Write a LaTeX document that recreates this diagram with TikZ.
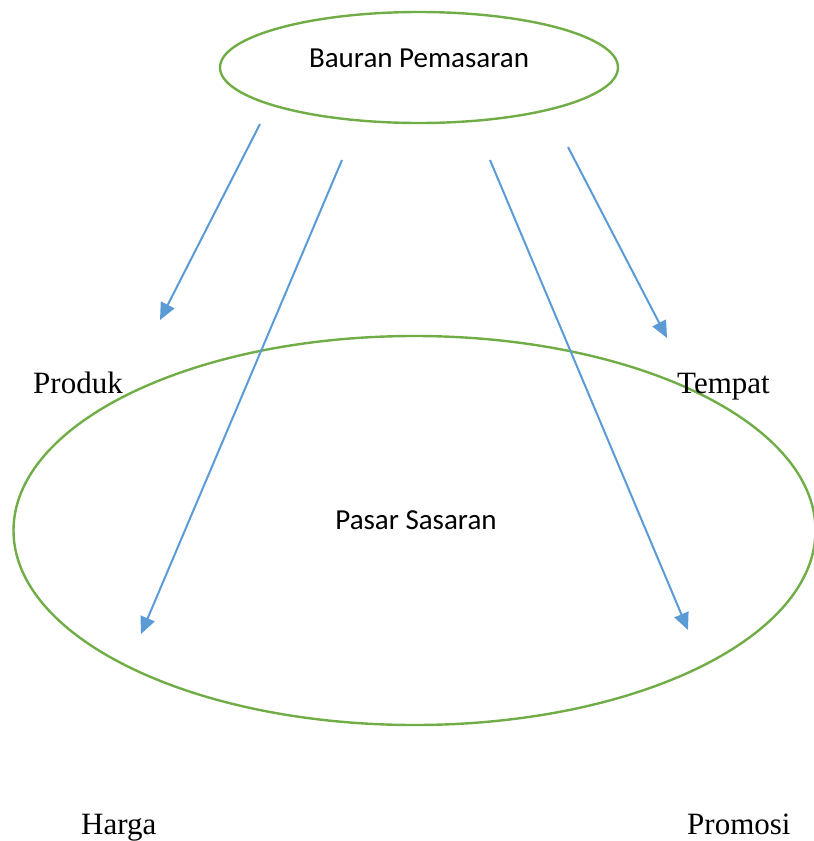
\documentclass[tikz,border=0pt]{standalone}
\usepackage{fontspec}
\setmainfont{Liberation Serif}
\newfontfamily\calib{Carlito}
\usetikzlibrary{shapes.geometric,arrows.meta}
\definecolor{ringgreen}{HTML}{70AD47}
\definecolor{arrowblue}{HTML}{5B9BD5}
\tikzset{
  ring/.style={draw=ringgreen, line width=2.4pt, ellipse, inner sep=0pt},
  boxlabel/.style={font=\calib\fontsize{29}{34}\selectfont, anchor=base, inner sep=0pt},
  mixlabel/.style={font=\fontsize{31}{36}\selectfont, anchor=base west, inner sep=0pt},
  flow/.style={draw=arrowblue, line width=2pt, -{Triangle[length=17pt,width=15pt]}}
}
\begin{document}
\begin{tikzpicture}[x=1pt,y=-1pt]
\useasboundingbox (0,0) rectangle (814,841);
% the two ellipses
\node[ring, minimum width=398pt, minimum height=111pt] (bauran) at (419,67.5) {};
\node[ring, minimum width=802pt, minimum height=389pt] (pasar) at (414.5,530.5) {};
\node[boxlabel] (bauranText) at (419,67) {Bauran Pemasaran};
\node[boxlabel] (pasarText) at (416,529) {Pasar Sasaran};
% the four mix elements
\node[mixlabel] (produk) at (33,393) {Produk};
\node[mixlabel] (tempat) at (677,393) {Tempat};
\node[mixlabel] (harga) at (81,834) {Harga};
\node[mixlabel] (promosi) at (687,834) {Promosi};
% arrow ends
\coordinate (s1) at (260,124);
\coordinate (e1) at (160,320);
\coordinate (s2) at (342,160);
\coordinate (e2) at (141,634);
\coordinate (s3) at (490,160);
\coordinate (e3) at (688,630);
\coordinate (s4) at (568,147);
\coordinate (e4) at (667,338);
\draw[flow] (s1) -- (e1);
\draw[flow] (s2) -- (e2);
\draw[flow] (s3) -- (e3);
\draw[flow] (s4) -- (e4);
\end{tikzpicture}
\end{document}
